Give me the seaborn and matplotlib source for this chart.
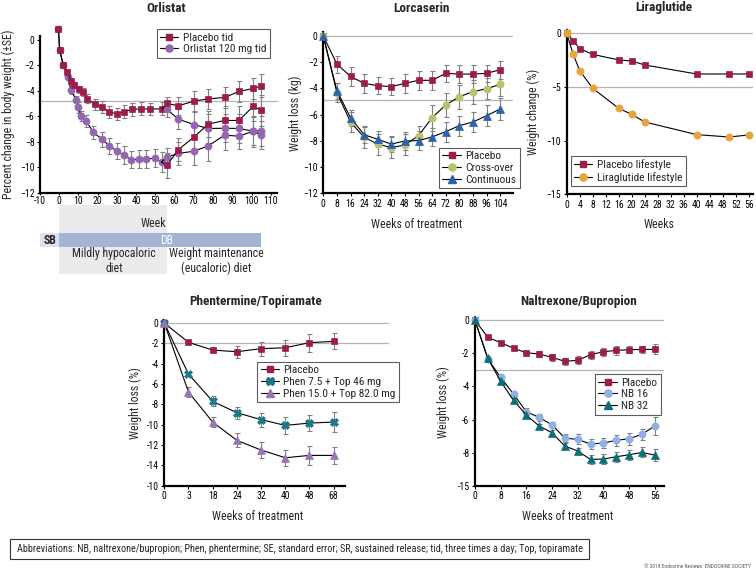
"""
Weight-loss drug trial panels (Orlistat, Lorcaserin, Liraglutide,
Phentermine/Topiramate, Naltrexone/Bupropion).
"""
import numpy as np
import matplotlib
matplotlib.use("Agg")
import matplotlib.pyplot as plt
from matplotlib.lines import Line2D
from matplotlib.patches import Rectangle
from matplotlib.transforms import blended_transform_factory
from matplotlib import font_manager
import seaborn as sns

sns.set_theme(style="ticks")
_installed = {f.name for f in font_manager.fontManager.ttflist}
_wanted = ["Liberation Sans Narrow", "DejaVu Sans Condensed", "Roboto Condensed",
           "Liberation Sans", "DejaVu Sans"]
plt.rcParams["font.family"] = [f for f in _wanted if f in _installed] or ["DejaVu Sans"]

W, H = 756, 571

# ---------------- data ----------------
# Orlistat: year 1, then four year-2 branches
orl_pl_wk = [-0.4, 0.2, 2.1, 4.2, 6.2, 7.6, 10.4, 12.5, 14.6, 18.6, 22.5, 26, 30.2, 33.8, 37.8, 42.3, 47, 53.6]
orl_pl_val = [0.82, -0.81, -1.98, -2.51, -3.24, -3.53, -3.89, -4.1, -4.63, -5.07, -5.25, -5.67, -5.8, -5.62,
              -5.46, -5.41, -5.43, -5.41]
orl_pl_se = [0, 0, 0.1, 0.15, 0.2, 0.25, 0.3, 0.3, 0.35, 0.4, 0.45, 0.45, 0.45, 0.5, 0.5, 0.5, 0.5, 0.5]
orl_or_wk = [-0.4, 0.2, 2.1, 4.5, 6.2, 8.8, 9.9, 11.4, 14, 17.8, 22.4, 26, 29.8, 33.6, 37.4, 41.4, 45.2, 49.6, 53.2]
orl_or_val = [0.82, -0.81, -1.98, -2.95, -3.95, -4.73, -5.3, -5.98, -6.35, -7.26, -7.81, -8.31, -8.7, -9.04,
              -9.38, -9.36, -9.33, -9.28, -9.57]
orl_or_se = [0, 0, 0, 0.2, 0.3, 0.35, 0.4, 0.4, 0.45, 0.5, 0.55, 0.6, 0.65, 0.7, 0.7, 0.7, 0.7, 0.7, 0.75]
orl_y2_wk = [56, 62, 70, 77.5, 86, 93.5, 101, 105]
orl_pp_val = [-4.99, -5.17, -4.81, -4.63, -4.52, -4.05, -3.81, -3.61]   # placebo -> placebo
orl_pp_se = [0.5, 0.7, 0.8, 0.8, 0.8, 0.8, 0.85, 0.9]
orl_po_val = [-5.45, -6.22, -6.64, -6.95, -6.93, -6.95, -7.16, -7.14]   # placebo -> orlistat
orl_po_se = [0.6, 0.8, 1.0, 1.1, 1.1, 1.1, 1.2, 1.2]
orl_op_val = [-9.83, -8.6, -7.63, -6.61, -6.32, -6.32, -5.2, -5.54]     # orlistat -> placebo
orl_op_se = [1.0, 0.9, 1.0, 1.0, 1.1, 1.1, 1.2, 1.2]
orl_oo_val = [-9.18, -8.9, -8.73, -8.31, -7.47, -7.55, -7.16, -7.47]    # orlistat -> orlistat
orl_oo_se = [0.7, 0.9, 1.1, 1.2, 1.2, 1.0, 1.1, 1.1]
orl_ticks = [-10, 0, 10, 20, 30, 40, 50, 60, 70, 80, 90, 100, 110]

# Lorcaserin
lor_wk = [0, 8, 16, 24, 32, 40, 48, 56, 64, 72, 80, 88, 96, 104]
lor_pl = [0, -2.14, -3.08, -3.61, -3.79, -3.86, -3.61, -3.38, -3.38, -2.85, -2.9, -2.9, -2.85, -2.57]
lor_pl_se = [0, 0.65, 0.7, 0.7, 0.65, 0.65, 0.7, 0.7, 0.7, 0.65, 0.7, 0.7, 0.65, 0.7]
lor_co = [0, -4.32, -6.56, -7.73, -8.24, -8.52, -8.31, -7.6, -6.23, -5.26, -4.63, -4.25, -4.02, -3.69]
lor_co_se = [0, 0.7, 0.75, 0.85, 0.8, 0.8, 0.8, 0.75, 1.0, 0.9, 0.9, 0.9, 0.8, 0.9]
lor_ct = [0, -4.17, -6.23, -7.53, -7.88, -8.24, -8.01, -7.98, -7.7, -7.3, -6.84, -6.56, -6.08, -5.57]
lor_ct_se = [0, 0.6, 0.6, 0.6, 0.6, 0.6, 0.65, 0.7, 0.7, 0.75, 0.75, 0.8, 0.8, 0.85]

# Liraglutide
lir_wk = [0, 2, 4, 8, 16, 20, 24, 40, 50, 56]
lir_pl = [0, -0.68, -1.43, -1.96, -2.48, -2.58, -2.95, -3.79, -3.79, -3.79]
lir_li = [0, -1.96, -3.48, -5.12, -6.99, -7.55, -8.26, -9.44, -9.66, -9.47]

# Phentermine/Topiramate (evenly spaced visits)
pht_wk = ["0", "3", "18", "24", "32", "40", "48", "68"]
pht_pl = [0, -1.9, -2.66, -2.82, -2.52, -2.43, -1.93, -1.8]
pht_pl_se = [0, 0.1, 0.15, 0.6, 0.7, 0.8, 0.9, 0.8]
pht_lo = [0, -5.02, -7.7, -8.82, -9.5, -10.07, -9.84, -9.74]
pht_lo_se = [0, 0.15, 0.5, 0.6, 0.7, 0.8, 0.8, 1.0]
pht_hi = [0, -6.79, -9.74, -11.54, -12.49, -13.25, -13.02, -13.02]
pht_hi_se = [0, 0.5, 0.5, 0.7, 0.8, 0.8, 0.9, 0.8]
pht_yticks = [0, -2, -4, -6, -8, -10, -12, -14, -16]
pht_ylabels = ["0", "-2", "-4", "-6", "-8", "-10", "-12", "-14", "-10"]

# Naltrexone/Bupropion
nb_wk = [0, 4, 8, 12, 16, 20, 24, 28, 32, 36, 40, 44, 48, 52, 56]
nb_pl = [0, -1.03, -1.35, -1.69, -1.96, -2.04, -2.24, -2.48, -2.42, -2.08, -1.9, -1.82, -1.78, -1.76, -1.76]
nb_pl_se = [0, 0.05, 0.08, 0.1, 0.12, 0.2, 0.2, 0.2, 0.25, 0.25, 0.25, 0.25, 0.2, 0.2, 0.3]
nb_16 = [0, -2.34, -3.45, -4.46, -5.53, -5.87, -6.32, -7.12, -7.2, -7.48, -7.42, -7.26, -7.16, -6.9, -6.39]
nb_16_se = [0, 0.1, 0.1, 0.15, 0.2, 0.2, 0.2, 0.25, 0.3, 0.3, 0.3, 0.35, 0.35, 0.35, 0.55]
nb_32 = [0, -2.3, -3.69, -4.84, -5.73, -6.39, -6.8, -7.6, -7.9, -8.41, -8.39, -8.25, -8.13, -7.99, -8.15]
nb_32_se = [0, 0.1, 0.1, 0.15, 0.15, 0.15, 0.15, 0.2, 0.2, 0.25, 0.3, 0.3, 0.3, 0.3, 0.35]
nb_yticks = [0, -2, -4, -6, -8, -10]
nb_ylabels = ["0", "-2", "-4", "-6", "-8", "-15"]

# colours
C_PL = "#9c1c4c"
C_ORL = "#9466b0"
C_CO = "#b7c46c"
C_CT = "#2b64ad"
C_LIR = "#e8a43c"
C_P75 = "#19788a"
C_P15 = "#9a74b6"
C_NB16 = "#8eb1e2"
C_NB32 = "#0d6e78"
C_REF = "#b4b4b4"
C_ERR = "#808080"

FS_TICK = 7
FS_LAB = 8.5
FS_TITLE = 9.5
FS_LEG = 8.2
MS = 4.6


def px_rect(x0, y0, x1, y1):
    return [x0 / W, 1 - y1 / H, (x1 - x0) / W, (y1 - y0) / H]


def fy(y):
    """figure fraction from a pixel row counted from the top"""
    return 1 - y / H


def fig_text(fig, x, y, s, **kw):
    fig.text(x / W, fy(y), s, **kw)


def style_axes(ax):
    sns.despine(ax=ax)
    for side in ("left", "bottom"):
        ax.spines[side].set_linewidth(1.6)
        ax.spines[side].set_color("black")
    ax.tick_params(axis="both", labelsize=FS_TICK, length=2.5, width=0.8, pad=1.5,
                   colors="black", direction="out")
    ax.set_xlabel("")
    ax.set_ylabel("")


def series(ax, x, y, color, marker, se=None, ms=MS):
    if se is not None:
        ax.errorbar(x, y, yerr=se, fmt="none", ecolor=C_ERR, elinewidth=0.8,
                    capsize=1.8, capthick=0.8, zorder=2, clip_on=False)
    sns.lineplot(x=x, y=y, ax=ax, color="black", lw=0.8,
                 marker=marker, ms=ms, mfc=color, mec=color, mew=0.5,
                 zorder=3, clip_on=False, sort=False)


def connector(ax, x0, y0, x, y):
    sns.lineplot(x=[x0] + list(x[:1]), y=[y0] + list(y[:1]), ax=ax,
                 color="black", lw=0.8, zorder=3, sort=False)


def handle(color, marker, label, ms=MS):
    return Line2D([], [], color="black", lw=0.8, marker=marker, ms=ms,
                  mfc=color, mec=color, label=label)


def add_legend(fig, ax, handles, x, y):
    leg = ax.legend(handles=handles, loc="upper left", bbox_to_anchor=(x / W, fy(y)),
                    bbox_transform=fig.transFigure, fontsize=FS_LEG, frameon=True,
                    fancybox=False, handlelength=1.6, handletextpad=0.4,
                    borderpad=0.3, labelspacing=0.15, borderaxespad=0)
    leg.get_frame().set_edgecolor("#333333")
    leg.get_frame().set_linewidth(0.8)
    return leg


fig = plt.figure(figsize=(W / 100, H / 100), dpi=100)
fig.patch.set_facecolor("white")

# study phase strip under the Orlistat axis, drawn in its own axes first
axt = fig.add_axes(px_rect(40, 205, 276.5, 276))
axt.set_xlim(-10, 113)
axt.set_ylim(276, 205)
axt.axis("off")
axt.add_patch(Rectangle((0, 205), 56, 69, fc="#ebebeb", ec="none"))
axt.add_patch(Rectangle((-10, 233), 10, 14, fc="#dde3ee", ec="none"))
axt.add_patch(Rectangle((0, 233), 105, 14, fc="#a2b5d5", ec="none"))
strip_txt = dict(fontsize=FS_LAB, ha="center", va="center")
axt.text(49, 223, "Week", **strip_txt)
axt.text(-5, 240, "SB", fontweight="bold", **strip_txt)
axt.text(56, 240, "DB", color="white", **strip_txt)
axt.text(28.5, 261, "Mildly hypocaloric\ndiet", linespacing=1.1, **strip_txt)
axt.text(81.5, 261, "Weight maintenance\n(eucaloric) diet", linespacing=1.1, **strip_txt)

# ---------------- Orlistat ----------------
ax = fig.add_axes(px_rect(40, 35.9, 276.5, 193))
ax.set_zorder(5)
ax.patch.set_alpha(0)
ax.axhline(-4.8, xmin=-0.01, xmax=1.0, color=C_REF, lw=0.9, zorder=1, clip_on=False)
series(ax, orl_or_wk, orl_or_val, C_ORL, "o", orl_or_se, ms=MS + 0.5)
series(ax, orl_pl_wk, orl_pl_val, C_PL, "s", orl_pl_se)
for vals, se, col, mk, (x0, y0) in [
    (orl_po_val, orl_po_se, C_ORL, "o", (orl_pl_wk[-1], orl_pl_val[-1])),
    (orl_oo_val, orl_oo_se, C_ORL, "o", (orl_or_wk[-1], orl_or_val[-1])),
    (orl_pp_val, orl_pp_se, C_PL, "s", (orl_pl_wk[-1], orl_pl_val[-1])),
    (orl_op_val, orl_op_se, C_PL, "s", (orl_or_wk[-1], orl_or_val[-1])),
]:
    connector(ax, x0, y0, orl_y2_wk, vals)
    series(ax, orl_y2_wk, vals, col, mk, se, ms=MS + 0.5 if mk == "o" else MS)
ax.set_xlim(-10, 113)
ax.set_ylim(-12, 0.3)
ax.set_yticks(np.arange(0, -13, -2))
style_axes(ax)
ax.set_xticks(orl_ticks)
ax.set_xticklabels([str(t) for t in orl_ticks])
ax.tick_params(axis="x", length=1.5, pad=0.8)
add_legend(fig, ax, [handle(C_PL, "s", "Placebo tid"), handle(C_ORL, "o", "Orlistat 120 mg tid", MS + 0.5)],
           156.7, 29.3)
fig_text(fig, 166, 8, "Orlistat", fontsize=FS_TITLE, fontweight="bold", ha="center", va="center")
fig_text(fig, 8, 114, "Percent change in body weight (\u00b1SE)", fontsize=FS_LAB,
         rotation=90, ha="center", va="center")

# ---------------- Lorcaserin ----------------
ax = fig.add_axes(px_rect(323.3, 32.1, 512.7, 193.3))
for yv in (0, -4.9):
    ax.axhline(yv, color=C_REF, lw=0.9, zorder=1)
series(ax, lor_wk, lor_pl, C_PL, "s", lor_pl_se)
series(ax, lor_wk, lor_co, C_CO, "o", lor_co_se, ms=MS + 0.6)
series(ax, lor_wk, lor_ct, C_CT, "^", lor_ct_se, ms=MS + 0.6)
ax.set_xlim(0, 111.4)
ax.set_ylim(-12, 0.3)
ax.set_xticks(lor_wk)
ax.set_yticks(np.arange(0, -13, -2))
style_axes(ax)
add_legend(fig, ax, [handle(C_PL, "s", "Placebo"), handle(C_CO, "o", "Cross-over", MS + 0.6),
                     handle(C_CT, "^", "Continuous", MS + 0.6)], 439, 148)
fig_text(fig, 421.7, 8, "Lorcaserin", fontsize=FS_TITLE, fontweight="bold", ha="center", va="center")
fig_text(fig, 295, 113, "Weight loss (kg)", fontsize=FS_LAB, rotation=90, ha="center", va="center")
fig_text(fig, 416.7, 224, "Weeks of treatment", fontsize=FS_LAB, ha="center", va="center")

# ---------------- Liraglutide ----------------
ax = fig.add_axes(px_rect(566.7, 30.1, 753.3, 194.3))
for yv in (0, -5):
    ax.axhline(yv, color=C_REF, lw=0.9, zorder=1)
series(ax, lir_wk, lir_pl, C_PL, "s")
series(ax, lir_wk, lir_li, C_LIR, "o", ms=MS + 0.6)
ax.set_xlim(0, 57.4)
ax.set_ylim(-15, 0.3)
ax.set_xticks(np.arange(0, 57, 4))
ax.set_yticks([0, -5, -10, -15])
style_axes(ax)
add_legend(fig, ax, [handle(C_PL, "s", "Placebo lifestyle"),
                     handle(C_LIR, "o", "Liraglutide lifestyle", MS + 0.6)], 570.7, 156)
fig_text(fig, 664, 8, "Liraglutide", fontsize=FS_TITLE, fontweight="bold", ha="center", va="center")
fig_text(fig, 533, 112, "Weight change (%)", fontsize=FS_LAB, rotation=90, ha="center", va="center")
fig_text(fig, 659.3, 224, "Weeks", fontsize=FS_LAB, ha="center", va="center")

# ---------------- Phentermine/Topiramate ----------------
ax = fig.add_axes(px_rect(164.3, 320, 345, 485.7))
xpos = np.arange(len(pht_wk))
for yv in (0, -2):
    ax.axhline(yv, xmin=0, xmax=1.24, color=C_REF, lw=0.9, zorder=1, clip_on=False)
series(ax, xpos, pht_pl, C_PL, "s", pht_pl_se)
series(ax, xpos, pht_lo, C_P75, "X", pht_lo_se, ms=MS + 0.8)
series(ax, xpos, pht_hi, C_P15, "^", pht_hi_se, ms=MS + 0.8)
ax.set_xlim(0, 7.47)
ax.set_ylim(-16, 0.3)
ax.set_xticks(xpos)
ax.set_xticklabels(pht_wk)
ax.set_yticks(pht_yticks)
ax.set_yticklabels(pht_ylabels)
style_axes(ax)
add_legend(fig, ax, [handle(C_PL, "s", "Placebo"), handle(C_P75, "X", "Phen 7.5 + Top 46 mg", MS + 0.8),
                     handle(C_P15, "^", "Phen 15.0 + Top 82.0 mg", MS + 0.8)], 257.3, 361.7)
fig_text(fig, 256, 301, "Phentermine/Topiramate", fontsize=FS_TITLE, fontweight="bold",
         ha="center", va="center")
fig_text(fig, 135, 403, "Weight loss (%)", fontsize=FS_LAB, rotation=90, ha="center", va="center")
fig_text(fig, 257.7, 517, "Weeks of treatment", fontsize=FS_LAB, ha="center", va="center")

# ---------------- Naltrexone/Bupropion ----------------
ax = fig.add_axes(px_rect(475, 317, 664.3, 485.7))
for yv in (0, -3):
    ax.axhline(yv, color=C_REF, lw=0.9, zorder=1)
series(ax, nb_wk, nb_pl, C_PL, "s", nb_pl_se)
series(ax, nb_wk, nb_16, C_NB16, "o", nb_16_se, ms=MS + 0.6)
series(ax, nb_wk, nb_32, C_NB32, "^", nb_32_se, ms=MS + 0.6)
ax.set_xlim(0, 59)
ax.set_ylim(-10, 0.2)
ax.set_xticks(np.arange(0, 57, 8))
ax.set_yticks(nb_yticks)
ax.set_yticklabels(nb_ylabels)
style_axes(ax)
add_legend(fig, ax, [handle(C_PL, "s", "Placebo"), handle(C_NB16, "o", "NB 16", MS + 0.6),
                     handle(C_NB32, "^", "NB 32", MS + 0.6)], 595, 374.3)
fig_text(fig, 579, 301, "Naltrexone/Bupropion", fontsize=FS_TITLE, fontweight="bold",
         ha="center", va="center")
fig_text(fig, 443, 402, "Weight loss (%)", fontsize=FS_LAB, rotation=90, ha="center", va="center")
fig_text(fig, 568, 517, "Weeks of treatment", fontsize=FS_LAB, ha="center", va="center")

# ---------------- footer ----------------
fig.add_artist(Rectangle((10 / W, fy(558.5)), 579 / W, 19.5 / H, transform=fig.transFigure,
                         fc="white", ec="#333333", lw=0.8))
fig_text(fig, 17, 549, "Abbreviations: NB, naltrexone/bupropion; Phen, phentermine; SE, standard error; "
         "SR, sustained release; tid, three times a day; Top, topiramate",
         fontsize=7.3, ha="left", va="center")
fig_text(fig, 751, 566, "\u00a9 2018 Endocrine Reviews  ENDOCRINE SOCIETY", fontsize=4,
         ha="right", va="center", color="#555555")

fig.savefig("out.png", dpi=100)
